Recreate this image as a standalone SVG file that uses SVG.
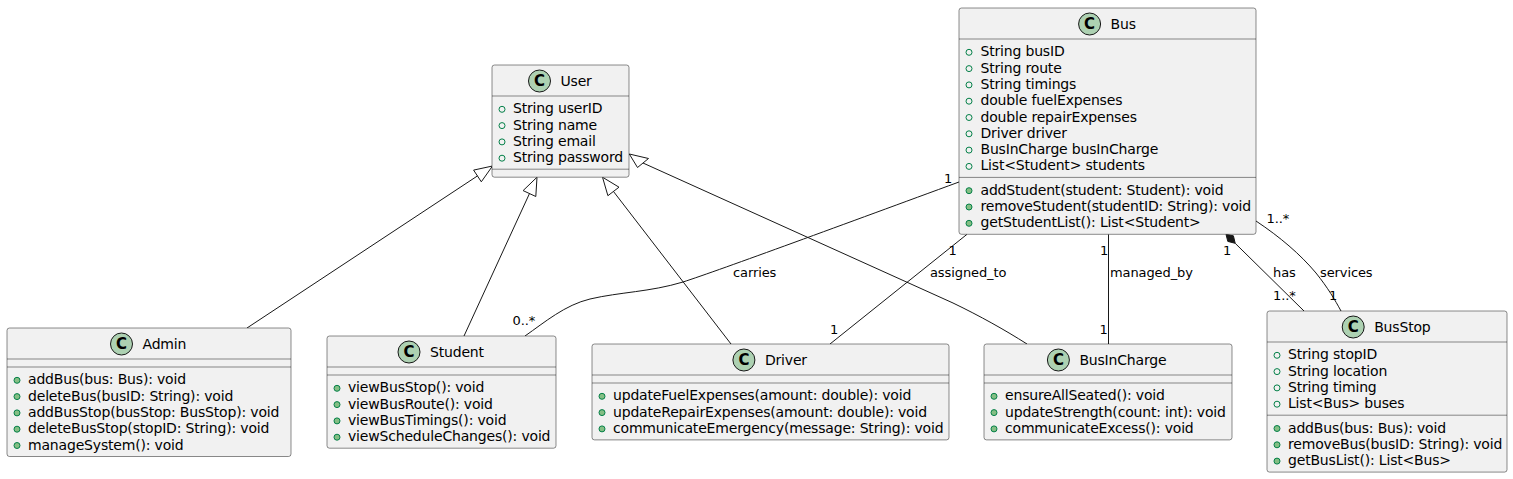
<svg xmlns="http://www.w3.org/2000/svg" width="1513" height="479" viewBox="0 0 1513 479">
<style>
.bg{fill:#FFFFFF}
.box{fill:#F1F1F1;stroke:#181818;stroke-width:0.5}
.sep{stroke:#181818;stroke-width:0.5}
.hc{fill:#ADD1B2;stroke:#181818;stroke-width:1}
.cl{font-family:"DejaVu Sans",sans-serif;font-size:15px;font-weight:bold;text-anchor:middle;fill:#000}
.t{font-family:"DejaVu Sans",sans-serif;font-size:14px;letter-spacing:-0.18px;fill:#000}
.fi{fill:none;stroke:#038048;stroke-width:1}
.mi{fill:#84BE84;stroke:#038048;stroke-width:1}
.ln{fill:none;stroke:#181818;stroke-width:1}
.ext{fill:none;stroke:#181818;stroke-width:1}
.dia{fill:#181818;stroke:#181818;stroke-width:1}
.lb{font-family:"DejaVu Sans",sans-serif;font-size:13px;letter-spacing:-0.1px;fill:#000}
</style>
<rect class="bg" x="0" y="0" width="1513" height="479"/>

<g id="connectors">
  <path class="ln" d="M247,328 L477.5,175.9"/>
  <polygon class="ext" points="492.5,166 481.3,181.8 473.6,170.1"/>
  <path class="ln" d="M464,336 L529.5,193.5"/>
  <polygon class="ext" points="537,177.2 535.8,196.5 523.1,190.6"/>
  <path class="ln" d="M731,344 L613.5,191.5"/>
  <polygon class="ext" points="602.5,177.2 619,187.2 607.9,195.7"/>
  <path class="ln" d="M1027,344 C1005,330 980,316 953,303 L643,163"/>
  <polygon class="ext" points="629.3,154 648.5,158.5 637.5,167.5"/>
  <path class="ln" d="M959,182 C850,222 720,270 683,282 C650,292 620,292 590,299 C565,305 545,322 525,336"/>
  <text class="lb" x="944" y="182.5">1</text>
  <text class="lb" x="733" y="277">carries</text>
  <text class="lb" x="512.5" y="325">0..*</text>
  <path class="ln" d="M967,234.3 L830,344"/>
  <text class="lb" x="948.5" y="254.5">1</text>
  <text class="lb" x="930" y="277">assigned_to</text>
  <text class="lb" x="830" y="333.5">1</text>
  <path class="ln" d="M1108.5,234.3 L1108.5,344"/>
  <text class="lb" x="1100" y="254.5">1</text>
  <text class="lb" x="1110" y="277">managed_by</text>
  <text class="lb" x="1099.5" y="333.5">1</text>
  <polygon class="dia" points="1226,234.3 1227.8,241.4 1235.2,243.3 1233.4,235.8"/>
  <path class="ln" d="M1235.2,243.3 L1304,311"/>
  <text class="lb" x="1223" y="254.5">1</text>
  <text class="lb" x="1273" y="277">has</text>
  <text class="lb" x="1273" y="300">1..*</text>
  <path class="ln" d="M1256,221 C1280,237 1300,254 1316,273 C1328,288 1335,300 1341,311"/>
  <text class="lb" x="1266.5" y="223">1..*</text>
  <text class="lb" x="1320" y="277">services</text>
  <text class="lb" x="1329" y="300">1</text>
</g>

<g id="User">
  <rect class="box" x="492" y="65" width="137" height="112.2" rx="2.5"/>
  <circle class="hc" cx="539.5" cy="81" r="11"/>
  <text class="cl" x="539.5" y="86.3">C</text>
  <text class="t" x="560.5" y="86">User</text>
  <line class="sep" x1="492" y1="96" x2="629" y2="96"/>
  <circle class="fi" cx="502" cy="109.3" r="3"/><text class="t" x="513" y="113.3">String userID</text>
  <circle class="fi" cx="502" cy="125.6" r="3"/><text class="t" x="513" y="129.6">String name</text>
  <circle class="fi" cx="502" cy="141.9" r="3"/><text class="t" x="513" y="145.9">String email</text>
  <circle class="fi" cx="502" cy="158.2" r="3"/><text class="t" x="513" y="162.2">String password</text>
  <line class="sep" x1="492" y1="169.2" x2="629" y2="169.2"/>
</g>

<g id="Bus">
  <rect class="box" x="959" y="8" width="297" height="226.3" rx="2.5"/>
  <circle class="hc" cx="1089.6" cy="24" r="11"/>
  <text class="cl" x="1089.6" y="29.3">C</text>
  <text class="t" x="1110.6" y="29">Bus</text>
  <line class="sep" x1="959" y1="39" x2="1256" y2="39"/>
  <circle class="fi" cx="969" cy="52.3" r="3"/><text class="t" x="980.5" y="56.3">String busID</text>
  <circle class="fi" cx="969" cy="68.6" r="3"/><text class="t" x="980.5" y="72.6">String route</text>
  <circle class="fi" cx="969" cy="84.9" r="3"/><text class="t" x="980.5" y="88.9">String timings</text>
  <circle class="fi" cx="969" cy="101.2" r="3"/><text class="t" x="980.5" y="105.2">double fuelExpenses</text>
  <circle class="fi" cx="969" cy="117.5" r="3"/><text class="t" x="980.5" y="121.5">double repairExpenses</text>
  <circle class="fi" cx="969" cy="133.8" r="3"/><text class="t" x="980.5" y="137.8">Driver driver</text>
  <circle class="fi" cx="969" cy="150.1" r="3"/><text class="t" x="980.5" y="154.1">BusInCharge busInCharge</text>
  <circle class="fi" cx="969" cy="166.4" r="3"/><text class="t" x="980.5" y="170.4">List&lt;Student&gt; students</text>
  <line class="sep" x1="959" y1="177.4" x2="1256" y2="177.4"/>
  <circle class="mi" cx="969" cy="190.7" r="3"/><text class="t" x="980.5" y="194.7">addStudent(student: Student): void</text>
  <circle class="mi" cx="969" cy="207" r="3"/><text class="t" x="980.5" y="211">removeStudent(studentID: String): void</text>
  <circle class="mi" cx="969" cy="223.3" r="3"/><text class="t" x="980.5" y="227.3">getStudentList(): List&lt;Student&gt;</text>
</g>

<g id="Admin">
  <rect class="box" x="7" y="328" width="284" height="128.5" rx="2.5"/>
  <circle class="hc" cx="121.5" cy="344" r="11"/>
  <text class="cl" x="121.5" y="349.3">C</text>
  <text class="t" x="142.5" y="349">Admin</text>
  <line class="sep" x1="7" y1="359" x2="291" y2="359"/>
  <line class="sep" x1="7" y1="367" x2="291" y2="367"/>
  <circle class="mi" cx="17" cy="380.3" r="3"/><text class="t" x="28" y="384.3">addBus(bus: Bus): void</text>
  <circle class="mi" cx="17" cy="396.6" r="3"/><text class="t" x="28" y="400.6">deleteBus(busID: String): void</text>
  <circle class="mi" cx="17" cy="412.9" r="3"/><text class="t" x="28" y="416.9">addBusStop(busStop: BusStop): void</text>
  <circle class="mi" cx="17" cy="429.2" r="3"/><text class="t" x="28" y="433.2">deleteBusStop(stopID: String): void</text>
  <circle class="mi" cx="17" cy="445.5" r="3"/><text class="t" x="28" y="449.5">manageSystem(): void</text>
</g>

<g id="Student">
  <rect class="box" x="327" y="336" width="229" height="112.2" rx="2.5"/>
  <circle class="hc" cx="409" cy="352" r="11"/>
  <text class="cl" x="409" y="357.3">C</text>
  <text class="t" x="430" y="357">Student</text>
  <line class="sep" x1="327" y1="367" x2="556" y2="367"/>
  <line class="sep" x1="327" y1="375" x2="556" y2="375"/>
  <circle class="mi" cx="337" cy="388.3" r="3"/><text class="t" x="348" y="392.3">viewBusStop(): void</text>
  <circle class="mi" cx="337" cy="404.6" r="3"/><text class="t" x="348" y="408.6">viewBusRoute(): void</text>
  <circle class="mi" cx="337" cy="420.9" r="3"/><text class="t" x="348" y="424.9">viewBusTimings(): void</text>
  <circle class="mi" cx="337" cy="437.2" r="3"/><text class="t" x="348" y="441.2">viewScheduleChanges(): void</text>
</g>

<g id="Driver">
  <rect class="box" x="592" y="344" width="357" height="95.9" rx="2.5"/>
  <circle class="hc" cx="743.9" cy="360" r="11"/>
  <text class="cl" x="743.9" y="365.3">C</text>
  <text class="t" x="764.9" y="365">Driver</text>
  <line class="sep" x1="592" y1="375" x2="949" y2="375"/>
  <line class="sep" x1="592" y1="383" x2="949" y2="383"/>
  <circle class="mi" cx="602" cy="396.3" r="3"/><text class="t" x="613" y="400.3">updateFuelExpenses(amount: double): void</text>
  <circle class="mi" cx="602" cy="412.6" r="3"/><text class="t" x="613" y="416.6">updateRepairExpenses(amount: double): void</text>
  <circle class="mi" cx="602" cy="428.9" r="3"/><text class="t" x="613" y="432.9">communicateEmergency(message: String): void</text>
</g>

<g id="BusInCharge">
  <rect class="box" x="984" y="344" width="248" height="95.9" rx="2.5"/>
  <circle class="hc" cx="1058.4" cy="360" r="11"/>
  <text class="cl" x="1058.4" y="365.3">C</text>
  <text class="t" x="1079.4" y="365">BusInCharge</text>
  <line class="sep" x1="984" y1="375" x2="1232" y2="375"/>
  <line class="sep" x1="984" y1="383" x2="1232" y2="383"/>
  <circle class="mi" cx="994" cy="396.3" r="3"/><text class="t" x="1005" y="400.3">ensureAllSeated(): void</text>
  <circle class="mi" cx="994" cy="412.6" r="3"/><text class="t" x="1005" y="416.6">updateStrength(count: int): void</text>
  <circle class="mi" cx="994" cy="428.9" r="3"/><text class="t" x="1005" y="432.9">communicateExcess(): void</text>
</g>

<g id="BusStop">
  <rect class="box" x="1267" y="311" width="240" height="161.1" rx="2.5"/>
  <circle class="hc" cx="1353.2" cy="327" r="11"/>
  <text class="cl" x="1353.2" y="332.3">C</text>
  <text class="t" x="1374.2" y="332">BusStop</text>
  <line class="sep" x1="1267" y1="342" x2="1507" y2="342"/>
  <circle class="fi" cx="1277" cy="355.3" r="3"/><text class="t" x="1288" y="359.3">String stopID</text>
  <circle class="fi" cx="1277" cy="371.6" r="3"/><text class="t" x="1288" y="375.6">String location</text>
  <circle class="fi" cx="1277" cy="387.9" r="3"/><text class="t" x="1288" y="391.9">String timing</text>
  <circle class="fi" cx="1277" cy="404.2" r="3"/><text class="t" x="1288" y="408.2">List&lt;Bus&gt; buses</text>
  <line class="sep" x1="1267" y1="415.2" x2="1507" y2="415.2"/>
  <circle class="mi" cx="1277" cy="428.5" r="3"/><text class="t" x="1288" y="432.5">addBus(bus: Bus): void</text>
  <circle class="mi" cx="1277" cy="444.8" r="3"/><text class="t" x="1288" y="448.8">removeBus(busID: String): void</text>
  <circle class="mi" cx="1277" cy="461.1" r="3"/><text class="t" x="1288" y="465.1">getBusList(): List&lt;Bus&gt;</text>
</g>
</svg>
